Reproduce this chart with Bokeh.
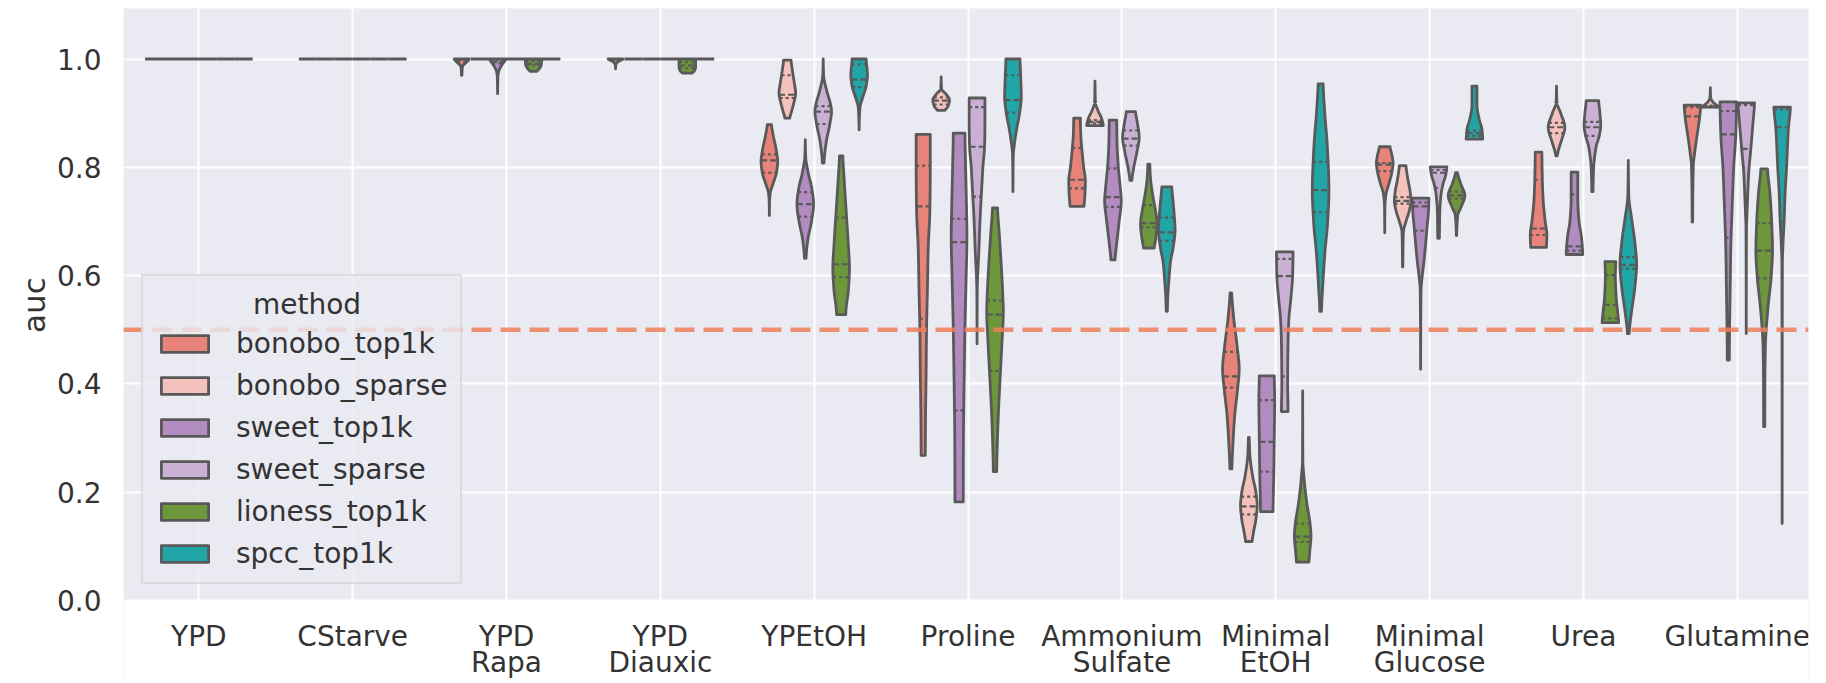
import numpy as np
from bokeh.plotting import figure
from bokeh.models import (Range1d, FixedTicker, Span, Legend, LegendItem, PrintfTickFormatter,
                          LabelSet, ColumnDataSource, BoxAnnotation)
from bokeh.core.properties import value
from bokeh.embed import file_html
from bokeh.resources import INLINE

# ---------------- data ----------------
categories = ["YPD", "CStarve", "YPD\nRapa", "YPD\nDiauxic", "YPEtOH", "Proline",
              "Ammonium\nSulfate", "Minimal\nEtOH", "Minimal\nGlucose", "Urea", "Glutamine"]
methods = ["bonobo_top1k", "bonobo_sparse", "sweet_top1k", "sweet_sparse",
           "lioness_top1k", "spcc_top1k"]
colors = ["#E8837A", "#F5C1BC", "#B28CC1", "#CBB0D6", "#6E963A", "#21A5A6"]
threshold = 0.5

# violin density profiles: (auc value, relative density 0..1), one per category
FLAT = [(1.0, 1.0)]
bonobo_top1k_shape = [
    FLAT, FLAT,
    [(1.0, 0.9), (0.993, 0.5), (0.987, 0.12), (0.98, 0.05), (0.97, 0.03)],
    [(1.0, 0.9), (0.995, 0.3), (0.99, 0.05), (0.982, 0.0)],
    [(0.879, 0.25), (0.86, 0.45), (0.83, 0.85), (0.811, 1.0), (0.79, 0.85), (0.77, 0.45), (0.752, 0.1), (0.735, 0.02), (0.711, 0.0)],
    [(0.861, 0.85), (0.80, 0.85), (0.72, 0.8), (0.65, 0.6), (0.57, 0.5), (0.50, 0.4), (0.42, 0.35), (0.34, 0.28), (0.268, 0.25)],
    [(0.891, 0.4), (0.86, 0.45), (0.83, 0.6), (0.80, 0.8), (0.775, 1.0), (0.75, 0.95), (0.728, 0.85)],
    [(0.568, 0.1), (0.52, 0.35), (0.47, 0.75), (0.427, 1.0), (0.39, 0.8), (0.34, 0.45), (0.29, 0.25), (0.243, 0.12)],
    [(0.838, 0.65), (0.82, 0.9), (0.808, 1.0), (0.79, 0.85), (0.772, 0.55), (0.75, 0.15), (0.73, 0.03), (0.679, 0.0)],
    [(0.828, 0.4), (0.78, 0.45), (0.74, 0.55), (0.70, 0.8), (0.675, 1.0), (0.652, 0.95)],
    [(0.915, 1.0), (0.89, 0.85), (0.858, 0.55), (0.83, 0.3), (0.805, 0.12), (0.75, 0.05), (0.699, 0.03)],
]
bonobo_sparse_shape = [
    FLAT, FLAT, FLAT, FLAT,
    [(0.998, 0.45), (0.98, 0.6), (0.955, 0.85), (0.937, 1.0), (0.92, 0.8), (0.90, 0.45), (0.891, 0.3)],
    [(0.967, 0.0), (0.945, 0.05), (0.935, 0.6), (0.924, 1.0), (0.912, 0.8), (0.905, 0.45)],
    [(0.959, 0.0), (0.92, 0.05), (0.905, 0.35), (0.89, 0.8), (0.877, 1.0)],
    [(0.301, 0.05), (0.27, 0.12), (0.23, 0.45), (0.20, 0.85), (0.176, 1.0), (0.15, 0.85), (0.125, 0.55), (0.109, 0.4)],
    [(0.803, 0.4), (0.78, 0.6), (0.755, 0.9), (0.738, 1.0), (0.72, 0.8), (0.70, 0.4), (0.68, 0.08), (0.616, 0.02)],
    [(0.950, 0.0), (0.92, 0.05), (0.90, 0.5), (0.874, 1.0), (0.85, 0.6), (0.83, 0.2), (0.821, 0.08)],
    [(0.947, 0.0), (0.928, 0.05), (0.92, 0.35), (0.911, 1.0)],
]
sweet_top1k_shape = [
    FLAT, FLAT,
    [(1.0, 1.0), (0.99, 0.55), (0.978, 0.15), (0.97, 0.05), (0.936, 0.0)],
    FLAT,
    [(0.851, 0.0), (0.82, 0.05), (0.79, 0.35), (0.76, 0.8), (0.732, 1.0), (0.70, 0.75), (0.67, 0.35), (0.645, 0.15), (0.632, 0.1)],
    [(0.863, 0.7), (0.80, 0.78), (0.72, 0.9), (0.672, 0.95), (0.60, 0.85), (0.50, 0.7), (0.40, 0.6), (0.30, 0.52), (0.182, 0.5)],
    [(0.887, 0.45), (0.84, 0.5), (0.80, 0.65), (0.76, 0.9), (0.738, 1.0), (0.70, 0.75), (0.66, 0.45), (0.629, 0.25)],
    [(0.415, 0.9), (0.37, 0.95), (0.30, 0.9), (0.24, 0.85), (0.164, 0.75)],
    [(0.743, 1.0), (0.72, 0.95), (0.685, 0.75), (0.65, 0.55), (0.626, 0.4), (0.60, 0.2), (0.573, 0.05), (0.427, 0.0)],
    [(0.791, 0.4), (0.74, 0.4), (0.70, 0.55), (0.67, 0.85), (0.639, 1.0)],
    [(0.921, 1.0), (0.86, 0.9), (0.80, 0.65), (0.72, 0.45), (0.65, 0.3), (0.57, 0.22), (0.50, 0.15), (0.444, 0.12)],
]
sweet_sparse_shape = [
    FLAT, FLAT, FLAT, FLAT,
    [(1.0, 0.0), (0.97, 0.05), (0.94, 0.45), (0.915, 0.9), (0.904, 1.0), (0.88, 0.8), (0.85, 0.4), (0.82, 0.15), (0.808, 0.1)],
    [(0.928, 0.95), (0.88, 0.95), (0.838, 0.9), (0.80, 0.7), (0.758, 0.55), (0.70, 0.35), (0.639, 0.2), (0.59, 0.05), (0.57, 0.02), (0.474, 0.0)],
    [(0.903, 0.55), (0.88, 0.8), (0.855, 1.0), (0.83, 0.75), (0.80, 0.35), (0.776, 0.12)],
    [(0.644, 1.0), (0.60, 0.95), (0.56, 0.75), (0.52, 0.5), (0.48, 0.4), (0.40, 0.35), (0.349, 0.4)],
    [(0.801, 1.0), (0.785, 0.85), (0.77, 0.55), (0.75, 0.3), (0.72, 0.15), (0.669, 0.1)],
    [(0.923, 0.75), (0.90, 0.9), (0.877, 1.0), (0.86, 0.85), (0.838, 0.45), (0.80, 0.15), (0.755, 0.07)],
    [(0.919, 1.0), (0.88, 0.8), (0.834, 0.55), (0.79, 0.3), (0.758, 0.2), (0.71, 0.08), (0.69, 0.03), (0.493, 0.0)],
]
lioness_top1k_shape = [
    FLAT, FLAT,
    [(1.0, 1.0), (0.99, 0.95), (0.982, 0.7), (0.977, 0.4)],
    [(1.0, 1.0), (0.985, 1.0), (0.978, 0.85), (0.974, 0.6)],
    [(0.821, 0.2), (0.78, 0.35), (0.72, 0.6), (0.66, 0.85), (0.613, 1.0), (0.57, 0.85), (0.54, 0.6), (0.528, 0.55)],
    [(0.725, 0.3), (0.68, 0.5), (0.62, 0.75), (0.56, 0.95), (0.533, 1.0), (0.48, 0.85), (0.42, 0.65), (0.36, 0.45), (0.30, 0.3), (0.238, 0.2)],
    [(0.806, 0.12), (0.78, 0.2), (0.75, 0.45), (0.72, 0.8), (0.695, 1.0), (0.67, 0.85), (0.651, 0.65)],
    [(0.387, 0.0), (0.26, 0.02), (0.22, 0.2), (0.18, 0.5), (0.14, 0.9), (0.119, 1.0), (0.09, 0.85), (0.071, 0.75)],
    [(0.790, 0.12), (0.77, 0.5), (0.748, 1.0), (0.725, 0.5), (0.712, 0.15), (0.674, 0.02)],
    [(0.626, 0.65), (0.60, 0.6), (0.56, 0.7), (0.53, 0.9), (0.513, 1.0)],
    [(0.797, 0.4), (0.75, 0.7), (0.70, 0.9), (0.646, 1.0), (0.60, 0.85), (0.54, 0.45), (0.474, 0.15), (0.40, 0.08), (0.321, 0.07)],
]
spcc_top1k_shape = [
    FLAT, FLAT, FLAT, FLAT,
    [(1.0, 0.85), (0.97, 1.0), (0.95, 0.85), (0.93, 0.45), (0.91, 0.1), (0.89, 0.03), (0.869, 0.0)],
    [(1.0, 0.85), (0.96, 0.95), (0.93, 1.0), (0.90, 0.8), (0.871, 0.45), (0.84, 0.15), (0.825, 0.05), (0.755, 0.0)],
    [(0.764, 0.6), (0.73, 0.8), (0.70, 0.95), (0.685, 1.0), (0.65, 0.75), (0.626, 0.45), (0.59, 0.25), (0.56, 0.12), (0.534, 0.07)],
    [(0.954, 0.3), (0.90, 0.5), (0.84, 0.8), (0.758, 1.0), (0.70, 0.85), (0.64, 0.5), (0.58, 0.25), (0.534, 0.1)],
    [(0.950, 0.3), (0.915, 0.3), (0.89, 0.55), (0.87, 0.9), (0.852, 1.0)],
    [(0.813, 0.0), (0.75, 0.05), (0.70, 0.45), (0.66, 0.8), (0.62, 1.0), (0.58, 0.8), (0.54, 0.45), (0.51, 0.2), (0.493, 0.1)],
    [(0.911, 1.0), (0.87, 0.75), (0.805, 0.55), (0.75, 0.35), (0.705, 0.25), (0.65, 0.08), (0.626, 0.03), (0.142, 0.0)],
]

# quartiles (q1, median, q3) per category
ONE = (1.0, 1.0, 1.0)
bonobo_top1k_quart = [ONE, ONE, (0.994, 0.998, 1.0), (0.997, 0.999, 1.0), (0.790, 0.813, 0.824),
                      (0.520, 0.728, 0.803), (0.761, 0.777, 0.836), (0.393, 0.414, 0.459),
                      (0.793, 0.805, 0.808), (0.675, 0.687, 0.777), (0.807, 0.894, 0.911)]
bonobo_sparse_quart = [ONE, ONE, ONE, ONE, (0.928, 0.934, 0.970), (0.916, 0.923, 0.929),
                       (0.881, 0.884, 0.887), (0.159, 0.174, 0.192), (0.733, 0.738, 0.745),
                       (0.863, 0.874, 0.882), (0.911, 0.912, 0.914)]
sweet_top1k_quart = [ONE, ONE, (0.992, 0.995, 0.998), ONE, (0.709, 0.732, 0.754),
                     (0.351, 0.662, 0.705), (0.727, 0.745, 0.798), (0.238, 0.293, 0.370),
                     (0.683, 0.728, 0.735), (0.646, 0.654, 0.750), (0.670, 0.861, 0.904)]
sweet_sparse_quart = [ONE, ONE, ONE, ONE, (0.880, 0.903, 0.913), (0.746, 0.838, 0.911),
                      (0.840, 0.853, 0.868), (0.414, 0.599, 0.631), (0.762, 0.790, 0.795),
                      (0.858, 0.874, 0.884), (0.740, 0.834, 0.915)]
lioness_top1k_quart = [ONE, ONE, (0.988, 0.991, 0.996), (0.983, 0.988, 0.994), (0.597, 0.621, 0.707),
                       (0.424, 0.528, 0.554), (0.689, 0.697, 0.730), (0.108, 0.118, 0.142),
                       (0.742, 0.748, 0.755), (0.521, 0.546, 0.601), (0.595, 0.646, 0.697)]
spcc_top1k_quart = [ONE, ONE, ONE, ONE, (0.948, 0.962, 0.990), (0.901, 0.924, 0.970),
                    (0.664, 0.680, 0.707), (0.717, 0.758, 0.810), (0.858, 0.863, 0.868),
                    (0.613, 0.620, 0.634), (0.700, 0.874, 0.907)]

shapes = [bonobo_top1k_shape, bonobo_sparse_shape, sweet_top1k_shape,
          sweet_sparse_shape, lioness_top1k_shape, spcc_top1k_shape]
quarts = [bonobo_top1k_quart, bonobo_sparse_quart, sweet_top1k_quart,
          sweet_sparse_quart, lioness_top1k_quart, spcc_top1k_quart]

# ---------------- styling ----------------
BG = "#EAEAF2"
EDGE = "#595959"
TEXT = "#333333"
FONT = "DejaVu Sans"
NBSP = "\u00a0"
DODGE_WIDTH = 0.7
SLOT = DODGE_WIDTH / len(methods)
HALF = 0.054
PX_PER_UNIT = 541.5          # vertical pixels per auc unit
BELOW = 80                   # pixels kept under auc = 0 for the category names
X0, X1 = -0.49, 10.463
Y1 = 1.0933
YB = -BELOW / PX_PER_UNIT


def pchip(xk, yk, xi):
    xk = np.asarray(xk, float)
    yk = np.asarray(yk, float)
    n = len(xk)
    if n == 1:
        return np.full_like(xi, yk[0])
    h = np.diff(xk)
    delta = np.diff(yk) / h
    m = np.zeros(n)
    if n == 2:
        m[:] = delta[0]
    else:
        for k in range(1, n - 1):
            if delta[k - 1] * delta[k] <= 0:
                m[k] = 0.0
            else:
                w1 = 2 * h[k] + h[k - 1]
                w2 = h[k] + 2 * h[k - 1]
                m[k] = (w1 + w2) / (w1 / delta[k - 1] + w2 / delta[k])
        m[0] = 0.5 * delta[0]
        m[-1] = 0.5 * delta[-1]
    idx = np.clip(np.searchsorted(xk, xi) - 1, 0, n - 2)
    t = (xi - xk[idx]) / h[idx]
    h00 = 2 * t**3 - 3 * t**2 + 1
    h10 = t**3 - 2 * t**2 + t
    h01 = -2 * t**3 + 3 * t**2
    h11 = t**3 - t**2
    return h00 * yk[idx] + h10 * h[idx] * m[idx] + h01 * yk[idx + 1] + h11 * h[idx] * m[idx + 1]


p = figure(width=1810, height=680,
           x_range=Range1d(X0, X1), y_range=Range1d(YB, Y1),
           output_backend="svg", toolbar_location=None,
           min_border_left=123, min_border_right=2, min_border_top=8, min_border_bottom=0,
           background_fill_color=BG, border_fill_color="white", outline_line_color=None)

cat_ticks = list(range(len(categories)))
yticks = [0.0, 0.2, 0.4, 0.6, 0.8, 1.0]
p.xaxis.visible = False
p.yaxis.ticker = FixedTicker(ticks=yticks)
p.yaxis.formatter = PrintfTickFormatter(format="%.1f")
p.xgrid.ticker = FixedTicker(ticks=cat_ticks)
p.ygrid.ticker = FixedTicker(ticks=yticks)
for g in (p.xgrid, p.ygrid):
    g.grid_line_color = "white"
    g.grid_line_width = 2

ax = p.yaxis
ax.axis_line_color = None
ax.major_tick_line_color = None
ax.minor_tick_line_color = None
ax.major_tick_out = 0
ax.major_tick_in = 0
ax.major_label_text_font = FONT
ax.major_label_text_font_size = "28px"
ax.major_label_text_color = TEXT
ax.major_label_standoff = 22
# leading no-break spaces lift the (rotated) label to the middle of the 0..1.09 span
ax.axis_label = NBSP * 8 + "auc"
ax.axis_label_text_font = FONT
ax.axis_label_text_font_size = "31px"
ax.axis_label_text_font_style = "normal"
ax.axis_label_text_color = TEXT
ax.axis_label_standoff = 2

# white band under auc = 0 that carries the category names
p.add_layout(BoxAnnotation(top=0, fill_color="white", fill_alpha=1.0, line_color=None))

# ---------------- violins ----------------
renderers = []
med_xs, med_ys, qrt_xs, qrt_ys = [], [], [], []
flat_x0, flat_x1, flat_y = [], [], []
for mi, (method, color) in enumerate(zip(methods, colors)):
    offset = (mi - (len(methods) - 1) / 2) * SLOT
    pxs, pys = [], []
    for ci in range(len(categories)):
        prof = shapes[mi][ci]
        center = ci + offset
        if len(prof) == 1:
            flat_x0.append(center - SLOT / 2)
            flat_x1.append(center + SLOT / 2)
            flat_y.append(prof[0][0])
            continue
        kv = np.array([k[0] for k in prof])[::-1]
        kd = np.array([k[1] for k in prof])[::-1]
        vv = np.linspace(kv[0], kv[-1], 160)
        dd = np.clip(pchip(kv, kd, vv), 0, 1.02)
        pxs.append(list(np.concatenate([center - dd * HALF, (center + dd * HALF)[::-1]])))
        pys.append(list(np.concatenate([vv, vv[::-1]])))
        q1, med, q3 = quarts[mi][ci]
        for qi, q in enumerate((q1, med, q3)):
            w = float(np.clip(pchip(kv, kd, np.array([q]))[0], 0, 1.02)) * HALF
            if qi == 1:
                med_xs.append([center - w, center + w]); med_ys.append([q, q])
            else:
                qrt_xs.append([center - w, center + w]); qrt_ys.append([q, q])
    r = p.patches(pxs, pys, fill_color=color, fill_alpha=1.0, line_color=EDGE,
                  line_width=2.8, line_join="round")
    renderers.append(r)

p.segment(x0=flat_x0, y0=flat_y, x1=flat_x1, y1=flat_y, line_color=EDGE, line_width=2.8)
p.multi_line(med_xs, med_ys, line_color=EDGE, line_width=2.2, line_dash="6 3")
p.multi_line(qrt_xs, qrt_ys, line_color=EDGE, line_width=2.2, line_dash="3 3")

span = Span(location=threshold, dimension="width", line_color="#F07F5C", line_alpha=0.85,
            line_width=4.5, line_dash="20 9")
p.add_layout(span)

# legend; leading no-break spaces centre the heading over the entries
legend = Legend(items=[LegendItem(label=m, renderers=[r]) for m, r in zip(methods, renderers)],
                location=(18, 96), title=NBSP * 11 + "method",
                title_text_font=FONT, title_text_font_size="28px", title_text_font_style="normal",
                title_text_color=TEXT, title_standoff=6,
                label_text_font=FONT, label_text_font_size="28px", label_text_color=TEXT,
                glyph_width=59, glyph_height=21, label_standoff=22, spacing=9, padding=12,
                margin=0, label_height=32,
                background_fill_color=BG, background_fill_alpha=0.8,
                border_line_color="#cccccc", border_line_width=2)
p.add_layout(legend)

# category names under the frame (two lines where the name wraps)
first_line = [c.split("\n")[0] for c in categories]
second_line = [c.split("\n")[1] if "\n" in c else "" for c in categories]
for lines, off in ((first_line, -45), (second_line, -71)):
    src = ColumnDataSource(dict(x=cat_ticks, y=[0.0] * len(cat_ticks), text=lines))
    p.add_layout(LabelSet(x="x", y="y", text="text", source=src, y_offset=off,
                          text_align="center", text_baseline="alphabetic",
                          text_font=value(FONT), text_font_size="28px", text_color=TEXT,
                          level="overlay"))

open("out.html", "w").write(file_html(p, INLINE))
